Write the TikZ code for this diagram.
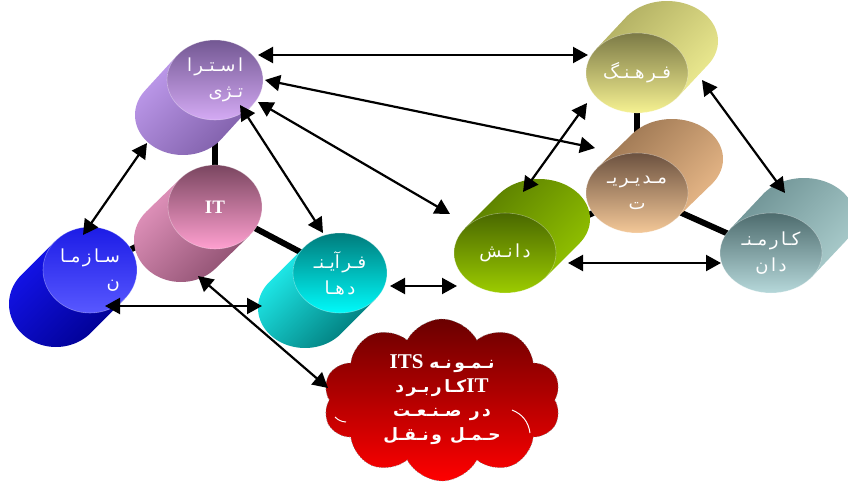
\documentclass[tikz,border=0pt]{standalone}
\usepackage{fontspec}
\usetikzlibrary{shapes.geometric,shapes.symbols,arrows.meta,calc}
\TeXXeTstate=1
\newfontfamily\fafont[Script=Arabic]{DejaVu Sans}
\newfontfamily\latfont{Liberation Serif}
\newcommand\fa[1]{\beginR#1\endR}
\newcommand\gp{\hspace{2.5pt}}
\pgfdeclarelayer{background}
\pgfsetlayers{background,main}

\definecolor{strFa}{HTML}{735893}\definecolor{strFb}{HTML}{D4AAF4}
\definecolor{strBa}{HTML}{BE9AEC}\definecolor{strBb}{HTML}{7E5EA8}
\definecolor{itFa}{HTML}{7A4660}\definecolor{itFb}{HTML}{FFA0D0}
\definecolor{itBa}{HTML}{E394BD}\definecolor{itBb}{HTML}{8E5070}
\definecolor{orgFa}{HTML}{1C1CE6}\definecolor{orgFb}{HTML}{5858FF}
\definecolor{orgBa}{HTML}{1414EC}\definecolor{orgBb}{HTML}{000090}
\definecolor{procFa}{HTML}{007C7C}\definecolor{procFb}{HTML}{00FAFA}
\definecolor{procBa}{HTML}{20F0F0}\definecolor{procBb}{HTML}{007878}
\definecolor{knowFa}{HTML}{4A6800}\definecolor{knowFb}{HTML}{9CCC00}
\definecolor{knowBa}{HTML}{5A7E00}\definecolor{knowBb}{HTML}{92C200}
\definecolor{cultFa}{HTML}{7C7A46}\definecolor{cultFb}{HTML}{F6F292}
\definecolor{cultBa}{HTML}{B0AE62}\definecolor{cultBb}{HTML}{ECEA90}
\definecolor{mgmtFa}{HTML}{6C5240}\definecolor{mgmtFb}{HTML}{F4C898}
\definecolor{mgmtBa}{HTML}{9C7652}\definecolor{mgmtBb}{HTML}{E8B888}
\definecolor{empFa}{HTML}{4E6C6E}\definecolor{empFb}{HTML}{B6D8DA}
\definecolor{empBa}{HTML}{6E9294}\definecolor{empBb}{HTML}{AACCCC}
\definecolor{cloudTop}{HTML}{6A0000}\definecolor{cloudBot}{HTML}{FF0000}

% body of a tilted cylinder: cx, cy, rx, ry, dx, dy, style
\newcommand\cylbody[7]{%
  \pgfmathsetmacro\cylT{atan2(-(#4)*(#5),(#3)*(#6))}%
  \pgfmathsetmacro\cylE{\cylT+180}%
  \pgfmathsetmacro\cylAx{(#3)*cos(\cylT)}%
  \pgfmathsetmacro\cylAy{(#4)*sin(\cylT)}%
  \shade[#7] plot[domain=\cylT:\cylE, samples=50]
      ({#1+(#5)+(#3)*cos(\x)},{#2+(#6)+(#4)*sin(\x)})
      -- ({#1-\cylAx},{#2-\cylAy}) -- ({#1+\cylAx},{#2+\cylAy}) -- cycle;
}

\begin{document}
\begin{tikzpicture}[x=1pt,y=-1pt,
  face/.style={ellipse, inner sep=0pt, text=white, align=center,
    draw=white, draw opacity=0.35, line width=0.6pt,
    font=\fafont\fontsize{18}{26}\selectfont},
  link/.style={line width=6pt, black},
  biarrow/.style={{Triangle[length=15pt,width=16pt]}-{Triangle[length=15pt,width=16pt]},
    line width=2.2pt, black}]
\useasboundingbox (0,0) rectangle (848,487);

% ---- left group
\cylbody{215}{80}{48}{40}{-32}{35}{top color=strBa, bottom color=strBb, shading angle=45}
\node[face, minimum width=96pt, minimum height=80pt, top color=strFa, bottom color=strFb, align=right]
  (str) at (215,80) {\fa{ا\gp سـتـر\gp ا}\\\fa{تـژی}};

\cylbody{215}{207}{47}{42}{-34}{33}{top color=itBa, bottom color=itBb, shading angle=45}
\node[face, minimum width=94pt, minimum height=84pt, top color=itFa, bottom color=itFb,
  font=\latfont\bfseries\fontsize{19}{22}\selectfont]
  (it) at (215,207) {IT};

\cylbody{90}{270}{47}{43}{-34}{34}{top color=orgBa, bottom color=orgBb, shading angle=45}
\node[face, minimum width=94pt, minimum height=86pt, top color=orgFa, bottom color=orgFb, align=right]
  (org) at (90,270) {\fa{سـا\gp ز\gp مـا}\\\fa{ن}};

\cylbody{340}{273}{47}{40}{-35}{35}{top color=procBa, bottom color=procBb, shading angle=45}
\node[face, minimum width=94pt, minimum height=80pt, top color=procFa, bottom color=procFb]
  (proc) at (340,273) {\fa{فـر\gp آیـنـ}\\\fa{د\gp هـا}};

% ---- right group
\cylbody{505}{253}{51}{40}{34}{-34}{top color=knowBa, bottom color=knowBb, shading angle=45}
\node[face, minimum width=102pt, minimum height=80pt, top color=knowFa, bottom color=knowFb]
  (know) at (505,253) {\fa{د\gp ا\gp نـش}};

\cylbody{637}{73}{51}{40}{30}{-32}{top color=cultBa, bottom color=cultBb, shading angle=45}
\node[face, minimum width=102pt, minimum height=80pt, top color=cultFa, bottom color=cultFb]
  (cult) at (637,73) {\fa{فـر\gp هـنـگ}};

\cylbody{637}{193}{51}{40}{35}{-34}{top color=mgmtBa, bottom color=mgmtBb, shading angle=45}
\node[face, minimum width=102pt, minimum height=80pt, top color=mgmtFa, bottom color=mgmtFb]
  (mgmt) at (637,193) {\fa{مـد\gp یـر\gp یـ}\\\fa{ت}};

\cylbody{771}{253}{51}{40}{33}{-35}{top color=empBa, bottom color=empBb, shading angle=45}
\node[face, minimum width=102pt, minimum height=80pt, top color=empFa, bottom color=empFb]
  (emp) at (771,253) {\fa{کـا\gp ر\gp مـنـ}\\\fa{د\gp ا\gp ن}};

% ---- cloud
\node[cloud, cloud puffs=10, cloud puff arc=125, cloud ignores aspect,
  minimum width=238pt, minimum height=162pt, inner sep=0pt,
  top color=cloudTop, bottom color=cloudBot, draw=gray, dotted, line width=0.7pt,
  text=white, align=center, font=\fafont\bfseries\fontsize{17}{24}\selectfont]
  (cloud) at (442,400)
  {\fa{نـمـو\gp نـه \beginL{\latfont\bfseries\fontsize{21}{24}\selectfont ITS}\endL}\\
   \fa{\beginL{\latfont\bfseries\fontsize{21}{24}\selectfont IT}\endL کـا\gp ر\gp بـر\gp د}\\
   \fa{د\gp ر \gp صـنـعـت}\\
   \fa{حـمـل \gp و\gp نـقـل}};
\draw[white, line width=1pt] ($(cloud.center)+(-107,17)$) to[bend right=20] ($(cloud.center)+(-96,22)$);
\draw[white, line width=1pt] ($(cloud.center)+(70,10)$) to[bend left=30] ($(cloud.center)+(88,33)$);

% ---- thick links behind
\begin{pgfonlayer}{background}
\draw[link] (str.center) -- (it.center);
\draw[link] (it.center) -- (proc.center);
\draw[link] (org.center) -- (it.center);
\draw[link] (cult.center) -- (mgmt.center);
\draw[link] (mgmt.center) -- (know.center);
\draw[link] (mgmt.center) -- (emp.center);
\end{pgfonlayer}

% ---- arrows
\draw[biarrow] ($(str.center)+(43,-25)$) -- ($(cult.center)+(-49,-18)$);
\draw[biarrow] ($(str.center)+(50,0)$) -- ($(mgmt.center)+(-42,-45)$);
\draw[biarrow] ($(str.center)+(43,22)$) -- ($(know.center)+(-55,-39)$);
\draw[biarrow] ($(str.center)+(25,25)$) -- ($(proc.center)+(-17,-40)$);
\draw[biarrow] ($(cult.center)+(-50,30)$) -- ($(know.center)+(18,-61)$);
\draw[biarrow] ($(cult.center)+(65,7)$) -- ($(emp.center)+(14,-60)$);
\draw[biarrow] ($(know.center)+(63,10)$) -- ($(emp.center)+(-50,10)$);
\draw[biarrow] ($(proc.center)+(50,13)$) -- ($(know.center)+(-48,33)$);
\draw[biarrow] ($(str.center)+(-68,63)$) -- ($(org.center)+(-7,-35)$);
\draw[biarrow] ($(org.center)+(15,36)$) -- ($(proc.center)+(-78,33)$);
\draw[biarrow] ($(it.center)+(-17,69)$) -- ($(cloud.center)+(-114,-12)$);
\end{tikzpicture}
\end{document}
